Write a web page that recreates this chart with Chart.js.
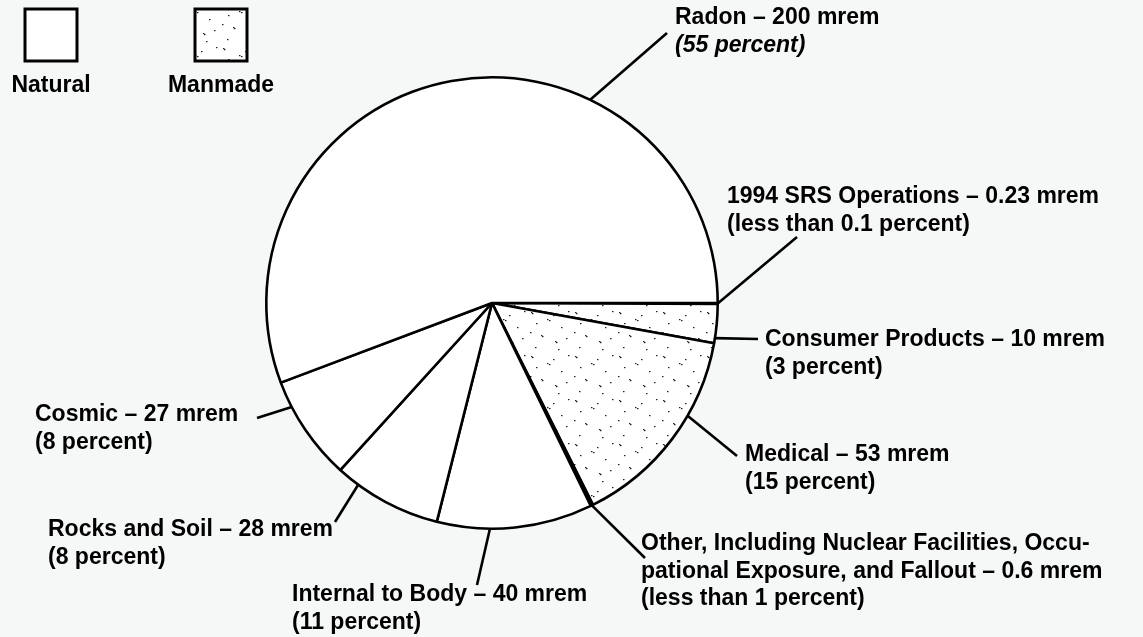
<!DOCTYPE html>
<html>
<head>
<meta charset="utf-8">
<script src="https://cdn.jsdelivr.net/npm/chart.js@4/dist/chart.umd.min.js"></script>
<style>
  html, body { margin: 0; padding: 0; background: #f6f8f7; }
</style>
</head>
<body>
<canvas id="doseChart" width="1143" height="637"></canvas>
<script>
// sources of radiation dose, clockwise from 3 o'clock
const sources = ['1994 SRS Operations', 'Consumer Products', 'Medical', 'Other', 'Internal to Body', 'Rocks and Soil', 'Cosmic', 'Radon'];
const doses = [0.23, 10, 53, 0.6, 40, 28, 27, 200];
const origins = ['Manmade', 'Manmade', 'Manmade', 'Manmade', 'Natural', 'Natural', 'Natural', 'Natural'];
const labelText = [
  ['1994 SRS Operations – 0.23 mrem', '(less than 0.1 percent)'],
  ['Consumer Products – 10 mrem', '(3 percent)'],
  ['Medical – 53 mrem', '(15 percent)'],
  ['Other, Including Nuclear Facilities, Occu-', 'pational Exposure, and Fallout – 0.6 mrem', '(less than 1 percent)'],
  ['Internal to Body – 40 mrem', '(11 percent)'],
  ['Rocks and Soil – 28 mrem', '(8 percent)'],
  ['Cosmic – 27 mrem', '(8 percent)'],
  ['Radon – 200 mrem', '(55 percent)']
];
const legendNames = ['Natural', 'Manmade'];

// layout of the callouts: where on the slice edge the leader starts (fraction of the arc),
// where it ends, and where the text block sits
const callouts = [
  { at: 0.5,  lx: 797, ly: 237, tx: 727, ty: 197 },
  { at: 0.87, lx: 758, ly: 339, tx: 765, ty: 340 },
  { at: 0.37, lx: 737, ly: 456, tx: 745, ty: 455 },
  { at: 0.5,  lx: 645, ly: 558, tx: 641, ty: 544 },
  { at: 0.66, lx: 477, ly: 585, tx: 292, ty: 595 },
  { at: 0.79, lx: 335, ly: 522, tx: 48,  ty: 530 },
  { at: 0.75, lx: 257, ly: 418, tx: 35,  ty: 415 },
  { at: 0.68, lx: 667, ly: 33,  tx: 675, ty: 18, italicLast: true }
];

const FONT = '"Liberation Sans", Arial, Helvetica, sans-serif';

function makeStipple() {
  const c = document.createElement('canvas');
  c.width = 44; c.height = 44;
  const g = c.getContext('2d');
  g.fillStyle = '#ffffff';
  g.fillRect(0, 0, 44, 44);
  g.fillStyle = '#222';
  const dots = [[3,4],[4,5],[25,7],[8,15],[19,11],[21,12],[33,19],[2,24],[13,27],[14,28],[38,30],[27,33],[28,34],[7,39],[40,3],[30,41]];
  dots.forEach(d => g.fillRect(d[0], d[1], 1.5, 1.2));
  return g.createPattern(c, 'repeat');
}

const stipple = makeStipple();
const fills = origins.map(o => o === 'Manmade' ? stipple : '#ffffff');

const calloutPlugin = {
  id: 'callouts',
  afterDraw(chart) {
    const ctx = chart.ctx;
    const arcs = chart.getDatasetMeta(0).data;
    ctx.save();
    ctx.strokeStyle = '#000';
    ctx.lineWidth = 2.6;
    ctx.fillStyle = '#000';
    ctx.textBaseline = 'middle';
    callouts.forEach((c, i) => {
      const p = arcs[i].getProps(['x', 'y', 'startAngle', 'endAngle', 'outerRadius'], true);
      const ang = p.startAngle + (p.endAngle - p.startAngle) * c.at;
      ctx.beginPath();
      ctx.moveTo(p.x + Math.cos(ang) * p.outerRadius, p.y + Math.sin(ang) * p.outerRadius);
      ctx.lineTo(c.lx, c.ly);
      ctx.stroke();
      const lines = labelText[i];
      lines.forEach((t, k) => {
        const it = c.italicLast && k === lines.length - 1 ? 'italic ' : '';
        ctx.font = it + 'bold 23px ' + FONT;
        ctx.fillText(t, c.tx, c.ty + k * 27.5);
      });
    });

    // legend boxes
    const boxes = [{ x: 25, fill: '#ffffff' }, { x: 195, fill: stipple }];
    ctx.font = 'bold 23px ' + FONT;
    ctx.textAlign = 'center';
    boxes.forEach((b, i) => {
      ctx.fillStyle = b.fill;
      ctx.fillRect(b.x, 9, 52, 52);
      ctx.lineWidth = 3;
      ctx.strokeRect(b.x, 9, 52, 52);
      ctx.fillStyle = '#000';
      ctx.fillText(legendNames[i], b.x + 26, 86);
    });
    ctx.restore();
  }
};

new Chart(document.getElementById('doseChart').getContext('2d'), {
  type: 'pie',
  data: {
    labels: sources,
    datasets: [{
      data: doses,
      backgroundColor: fills,
      borderColor: '#000',
      borderWidth: 2.6
    }]
  },
  options: {
    responsive: false,
    animation: false,
    rotation: 90,
    layout: { padding: { top: 76, bottom: 107, left: 0, right: 159 } },
    plugins: {
      legend: { display: false },
      tooltip: { enabled: false }
    }
  },
  plugins: [calloutPlugin]
});
</script>
</body>
</html>
